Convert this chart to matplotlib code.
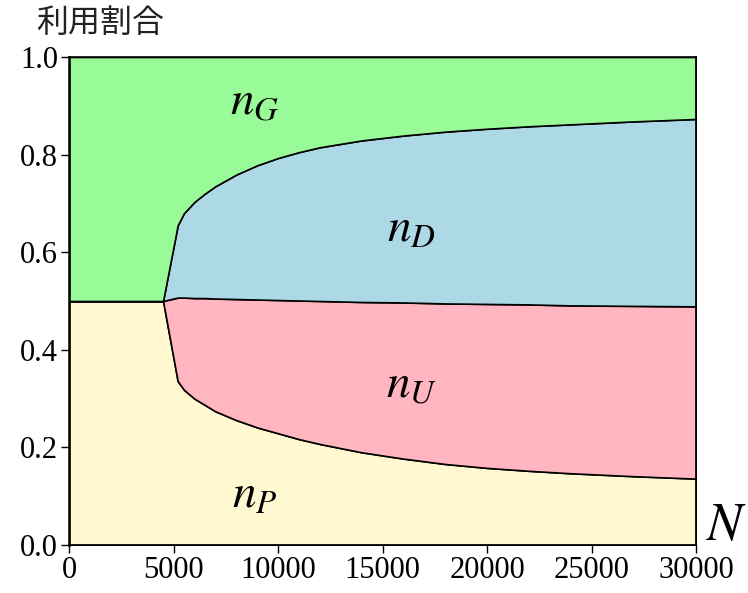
import matplotlib
matplotlib.use("Agg")
import matplotlib.pyplot as plt

# Population size N and the share of each user type
N = [0, 4500, 5200, 5500, 6000, 6500, 7000, 8000, 9000, 10000, 11000, 12000,
     14000, 16000, 18000, 20000, 22000, 24000, 27000, 30000]
n_P = [0.500, 0.500, 0.336, 0.318, 0.300, 0.287, 0.274, 0.256, 0.241, 0.229,
       0.217, 0.207, 0.190, 0.177, 0.166, 0.158, 0.152, 0.147, 0.141, 0.136]
n_U = [0.000, 0.000, 0.171, 0.189, 0.206, 0.219, 0.231, 0.248, 0.262, 0.273,
       0.284, 0.293, 0.308, 0.320, 0.329, 0.336, 0.341, 0.344, 0.349, 0.353]
n_D = [0.000, 0.000, 0.148, 0.173, 0.197, 0.214, 0.230, 0.255, 0.275, 0.291,
       0.304, 0.315, 0.331, 0.342, 0.352, 0.359, 0.365, 0.371, 0.378, 0.384]
n_G = [0.500, 0.500, 0.345, 0.320, 0.297, 0.280, 0.265, 0.241, 0.222, 0.207,
       0.195, 0.185, 0.171, 0.161, 0.153, 0.147, 0.142, 0.138, 0.132, 0.127]

colors = ["#fff8d0", "#ffb6c1", "#add8e6", "#98fb98"]
labels = [r"$n_P$", r"$n_U$", r"$n_D$", r"$n_G$"]
label_pos = [(8900, 0.10), (16400, 0.325), (16400, 0.645), (8900, 0.905)]

x_ticks = [0, 5000, 10000, 15000, 20000, 25000, 30000]
y_ticks = [0.0, 0.2, 0.4, 0.6, 0.8, 1.0]

plt.rcParams["mathtext.fontset"] = "stix"
plt.rcParams["font.family"] = ["Liberation Serif", "DejaVu Serif"]

fig = plt.figure(figsize=(7.48, 5.93), dpi=100)
ax = fig.add_axes([69 / 748, 1 - 545 / 593, (696 - 69) / 748, (545 - 57) / 593])

ax.stackplot(N, n_P, n_U, n_D, n_G, colors=colors,
             edgecolor="black", linewidth=1.2)

for lab, (lx, ly) in zip(labels, label_pos):
    ax.text(lx, ly, lab, fontsize=34, ha="center", va="center")

ax.set_xlim(0, 30000)
ax.set_ylim(0, 1)
ax.set_xticks(x_ticks)
ax.set_yticks(y_ticks)
ax.set_yticklabels([f"{v:.1f}" for v in y_ticks])
ax.tick_params(labelsize=22, length=6, width=1, pad=2)
for s in ax.spines.values():
    s.set_linewidth(1.2)
ax.spines["left"].set_linewidth(1.8)

ax.text((726 - 69) / 627, (545 - 527) / 488, r"$N$", transform=ax.transAxes,
        fontsize=38, ha="center", va="center")
fig.text(100 / 748, 1 - 23 / 593, "利用割合", fontsize=23,
         family=["Noto Sans CJK JP", "DejaVu Sans"], ha="center", va="center",
         color="#222222")

fig.savefig("out.png", dpi=100)
